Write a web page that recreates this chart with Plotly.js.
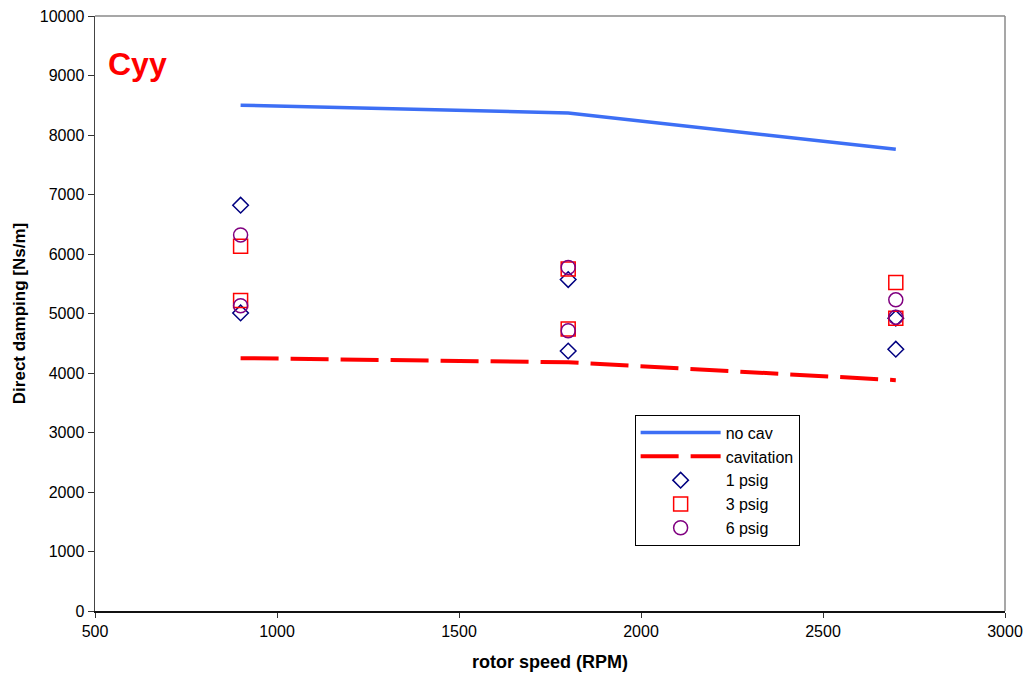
<!DOCTYPE html>
<html>
<head>
<meta charset="utf-8">
<script src="https://cdn.plot.ly/plotly-3.0.1.min.js"></script>
<style>
  html, body { margin: 0; padding: 0; background: #fff; }
  #chart { width: 1025px; height: 679px; }
</style>
</head>
<body>
<div id="chart"></div>
<script>
// Rotor speeds (RPM)
const speedLine = [900, 1800, 2700];
// Predicted direct damping Cyy [Ns/m]
const noCav = [8500, 8370, 7760];
const cavitation = [4250, 4180, 3880];

// Measured direct damping at each supply pressure (two tests per speed)
const speedPts = [900, 900, 1800, 1800, 2700, 2700];
const psig1 = [6820, 5010, 5570, 4370, 4920, 4400];
const psig3 = [6130, 5220, 5750, 4740, 5520, 4920];
const psig6 = [6320, 5130, 5775, 4710, 5230, 4935];

const FONT = 'Liberation Sans, Arial, sans-serif';

const traces = [
  { x: speedLine, y: noCav, name: 'no cav', mode: 'lines',
    line: { color: '#3d6ff5', width: 3.5 } },
  { x: speedLine, y: cavitation, name: 'cavitation', mode: 'lines',
    line: { color: '#ff0000', width: 4, dash: '38px,12px' } },
  { x: speedPts, y: psig1, name: '1 psig', mode: 'markers',
    marker: { symbol: 'diamond-open', size: 12, color: '#000080', line: { width: 1.5 } } },
  { x: speedPts, y: psig3, name: '3 psig', mode: 'markers',
    marker: { symbol: 'square-open', size: 14, color: '#ff0000', line: { width: 1.5 } } },
  { x: speedPts, y: psig6, name: '6 psig', mode: 'markers',
    marker: { symbol: 'circle-open', size: 14, color: '#800080', line: { width: 1.5 } } }
];

const tickFont = { family: FONT, size: 16, color: '#000' };

const layout = {
  width: 1025, height: 679,
  margin: { l: 95, r: 20, t: 16, b: 68 },
  paper_bgcolor: '#fff', plot_bgcolor: '#fff',
  font: { family: FONT, size: 14, color: '#000' },
  showlegend: true,
  legend: {
    x: 0.593, y: 0.33, xanchor: 'left', yanchor: 'top',
    bgcolor: '#fff', bordercolor: '#000', borderwidth: 1,
    font: { family: FONT, size: 16, color: '#000' },
    tracegroupgap: 0, itemwidth: 80
  },
  xaxis: {
    range: [500, 3000], dtick: 500, tick0: 500,
    showgrid: false, zeroline: false,
    showline: true, linecolor: '#111', linewidth: 1.5,
    ticks: 'outside', ticklen: 5, tickcolor: '#333',
    tickfont: tickFont,
    title: { text: '<b>rotor speed (RPM)</b>', font: { family: FONT, size: 18, color: '#000' }, standoff: 16 }
  },
  yaxis: {
    range: [0, 10000], dtick: 1000, tickformat: 'd',
    showgrid: false, zeroline: false,
    showline: true, linecolor: '#444', linewidth: 1.5,
    ticks: 'outside', ticklen: 6, tickcolor: '#333',
    tickfont: tickFont,
    title: { text: '<b>Direct damping [Ns/m]</b>', font: { family: FONT, size: 17, color: '#000' }, standoff: 10 }
  },
  shapes: [
    // grey frame along the top and right edges of the plot area
    { type: 'line', xref: 'paper', yref: 'paper', x0: 0, x1: 1, y0: 1, y1: 1,
      line: { color: '#8a8a8a', width: 1.5 } },
    { type: 'line', xref: 'paper', yref: 'paper', x0: 1, x1: 1, y0: 0, y1: 1,
      line: { color: '#8a8a8a', width: 1.5 } }
  ],
  annotations: [{
    text: '<b>Cyy</b>', xref: 'paper', yref: 'paper',
    x: 0.012, y: 0.919, xanchor: 'left', yanchor: 'middle', showarrow: false,
    font: { family: FONT, size: 32, color: '#ff0000' }
  }]
};

Plotly.newPlot('chart', traces, layout, { displayModeBar: false, staticPlot: true });
</script>
</body>
</html>
